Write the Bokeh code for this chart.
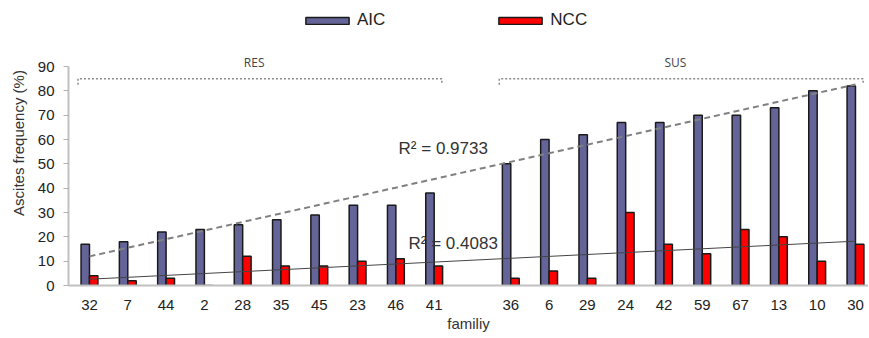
import numpy as np
from bokeh.plotting import figure
from bokeh.models import Legend, LegendItem, Label, FixedTicker, Range1d
from bokeh.embed import file_html
from bokeh.resources import INLINE

# ---- data ----
families = ["32", "7", "44", "2", "28", "35", "45", "23", "46", "41",
            "36", "6", "29", "24", "42", "59", "67", "13", "10", "30"]
groups = ["RES"] * 10 + ["SUS"] * 10
aic = [17, 18, 22, 23, 25, 27, 29, 33, 33, 38,
       50, 60, 62, 67, 67, 70, 70, 73, 80, 82]
ncc = [4, 2, 3, 0, 12, 8, 8, 10, 11, 8,
       3, 6, 3, 30, 17, 13, 23, 20, 10, 17]
series_names = ["AIC", "NCC"]
r2_aic_text = "R\u00b2 = 0.9733"
r2_ncc_text = "R\u00b2 = 0.4083"
y_ticks = [0, 10, 20, 30, 40, 50, 60, 70, 80, 90]

FONT = "Liberation Sans"

# positions with a gap between groups
pos = []
k = 0
prev = groups[0]
for i, g in enumerate(groups):
    if g != prev:
        k += 1
        prev = g
    pos.append(i + k)
pos = np.array(pos, dtype=float)

ppu = 219.0 / 90.0  # pixels per unit on the y axis
p = figure(width=868, height=337, output_backend="svg", toolbar_location=None,
           x_range=Range1d(-0.548, 20.34), y_range=Range1d(0, 90 + 66 / ppu),
           min_border_left=68, min_border_right=0, min_border_top=0,
           min_border_bottom=52)
p.outline_line_color = None
p.xgrid.visible = False
p.ygrid.visible = False

bw = 0.22
r_aic = p.vbar(x=pos - bw / 2, top=aic, width=bw, fill_color="#646499",
               line_color="#1a1a1a", line_width=1.5)
r_ncc = p.vbar(x=pos + bw / 2, top=ncc, width=bw, fill_color="#ff0000",
               line_color="#1a1a1a", line_width=1.5)

# linear trend lines
xs_tr = np.array([pos.min(), pos.max()])
c1 = np.polyfit(pos, aic, 1)
c2 = np.polyfit(pos, ncc, 1)
p.line(xs_tr, np.polyval(c1, xs_tr), line_color="#808080", line_width=2,
       line_dash="6 4")
p.line(xs_tr, np.polyval(c2, xs_tr), line_color="#444444", line_width=1)

# group brackets
for gname in ["RES", "SUS"]:
    gp = [pos[i] for i in range(len(groups)) if groups[i] == gname]
    x0, x1 = min(gp) - 0.3, max(gp) + 0.2
    p.line([x0, x0, x1, x1], [82.5, 85, 85, 82.5], line_color="#8a8a8a",
           line_width=1.5, line_dash="2 2")
    p.add_layout(Label(x=(x0 + x1) / 2 - 0.15, y=91.6, text=gname,
                       text_align="center", text_baseline="middle",
                       text_font="Open Sans", text_font_size="12px",
                       text_color="#444444"))

p.add_layout(Label(x=8.07, y=56.3, text=r2_aic_text, text_baseline="middle",
                   text_font=FONT, text_font_size="17px", text_color="#333333"))
p.add_layout(Label(x=8.33, y=17.3, text=r2_ncc_text, text_baseline="middle",
                   text_font=FONT, text_font_size="17px", text_color="#333333"))

# axes
xa = p.xaxis[0]
xa.ticker = FixedTicker(ticks=list(pos))
xa.major_label_overrides = {float(x): f for x, f in zip(pos, families)}
xa.major_tick_out = 0
xa.major_tick_in = 0
xa.minor_tick_out = 0
xa.minor_tick_in = 0
xa.axis_line_color = "#c0c0c0"
xa.axis_line_width = 2
xa.major_label_text_font = FONT
xa.major_label_text_font_size = "15px"
xa.major_label_text_color = "#222222"
xa.major_label_standoff = 14
xa.axis_label = "familiy"
xa.axis_label_text_font = FONT
xa.axis_label_text_font_size = "15px"
xa.axis_label_text_font_style = "normal"
xa.axis_label_text_color = "#333333"
xa.axis_label_standoff = 2

ya = p.yaxis[0]
ya.ticker = FixedTicker(ticks=y_ticks)
ya.bounds = (0, 90)
ya.major_tick_out = 5
ya.major_tick_in = 0
ya.minor_tick_out = 0
ya.minor_tick_in = 0
ya.major_tick_line_color = "#b0b0b0"
ya.axis_line_color = "#c0c0c0"
ya.axis_line_width = 2
ya.major_label_text_font = FONT
ya.major_label_text_font_size = "15px"
ya.major_label_text_color = "#222222"
ya.major_label_standoff = 9
ya.axis_label = "Ascites frequency (%)"
ya.axis_label_text_font = FONT
ya.axis_label_text_font_size = "15px"
ya.axis_label_text_font_style = "normal"
ya.axis_label_text_color = "#333333"
ya.axis_label_standoff = 8

legend = Legend(items=[LegendItem(label=series_names[0], renderers=[r_aic]),
                       LegendItem(label=series_names[1], renderers=[r_ncc])],
                orientation="horizontal", location=(232, 255),
                glyph_width=54, glyph_height=9, label_standoff=3,
                label_text_font=FONT, label_text_font_size="17px",
                label_text_color="#222222", spacing=108, padding=0, margin=0,
                border_line_alpha=0, background_fill_alpha=0)
p.add_layout(legend)

open("out.html", "w").write(file_html(p, INLINE))
